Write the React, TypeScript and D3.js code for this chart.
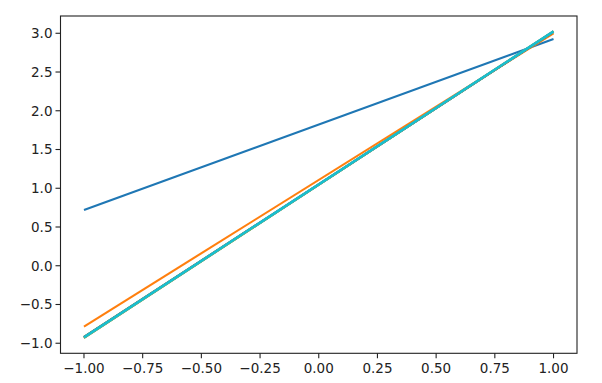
import React from "react";
import * as d3 from "d3";

const xPoints = [-1, 1];
const seriesColors = ["#1f77b4", "#ff7f0e", "#2ca02c", "#d62728", "#9467bd", "#8c564b", "#e377c2", "#7f7f7f", "#bcbd22", "#17becf"];
const seriesStart = [0.72, -0.785, -0.917, -0.921, -0.924, -0.926, -0.928, -0.931, -0.932, -0.925];
const seriesEnd = [2.925, 3.0, 3.018, 3.02, 3.021, 3.022, 3.023, 3.024, 3.025, 3.024];
const xTicks = [-1, -0.75, -0.5, -0.25, 0, 0.25, 0.5, 0.75, 1];
const yTicks = [-1, -0.5, 0, 0.5, 1, 1.5, 2, 2.5, 3];

const W = 602, H = 383;
const L = 60.5, R = 577, T = 16, B = 353.3;

export default function App() {
  const allY = [...seriesStart, ...seriesEnd];
  const [ymin, ymax] = d3.extent(allY) as [number, number];
  const ypad = (ymax - ymin) * 0.05;
  const [xmin, xmax] = d3.extent(xPoints) as [number, number];
  const xpad = (xmax - xmin) * 0.05;
  const x = d3.scaleLinear().domain([xmin - xpad, xmax + xpad]).range([L, R]);
  const y = d3.scaleLinear().domain([ymin - ypad, ymax + ypad]).range([B, T]);
  const line = d3.line<[number, number]>().x(d => x(d[0])).y(d => y(d[1]));
  const minus = (s: string) => s.replace("-", "\u2212");
  const fx = (v: number) => minus(d3.format(".2f")(v));
  const fy = (v: number) => minus(d3.format(".1f")(v));
  const font = "'DejaVu Sans', sans-serif";
  return (
    <svg width={W} height={H} style={{ position: "absolute", left: 0, top: 0, background: "#fff" }}>
      <rect x={0} y={0} width={W} height={H} fill="#fff" />
      {seriesColors.map((c, i) => (
        <path key={i} d={line([[xPoints[0], seriesStart[i]], [xPoints[1], seriesEnd[i]]]) || ""}
          stroke={c} strokeWidth={i === seriesColors.length - 1 ? 2.6 : 2.1} fill="none" strokeLinecap="butt" />
      ))}
      <rect x={L} y={T} width={R - L} height={B - T} fill="none" stroke="#222" strokeWidth={1.1} />
      {xTicks.map(t => (
        <g key={t} transform={`translate(${x(t)},${B})`}>
          <line y1={0} y2={5} stroke="#222" strokeWidth={1.1} />
          <text y={20} textAnchor="middle" fontSize={13.5} fontFamily={font} fill="#222">{fx(t)}</text>
        </g>
      ))}
      {yTicks.map(t => (
        <g key={t} transform={`translate(${L},${y(t)})`}>
          <line x1={0} x2={-5} stroke="#222" strokeWidth={1.1} />
          <text x={-8} dy="0.36em" textAnchor="end" fontSize={13.5} fontFamily={font} fill="#222">{fy(t)}</text>
        </g>
      ))}
    </svg>
  );
}
